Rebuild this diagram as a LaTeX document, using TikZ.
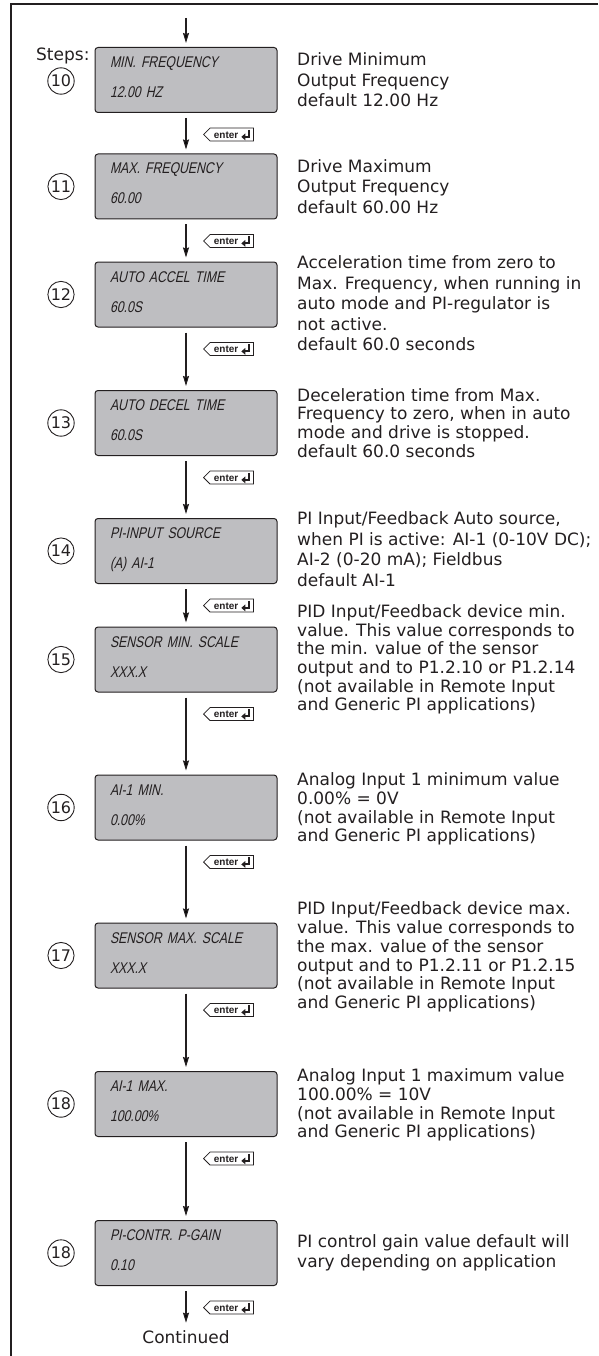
\documentclass[tikz,border=0pt]{standalone}
\usepackage{fontspec}
\setmainfont{DejaVu Sans}
\newfontfamily\lcdfont[FakeSlant=0.22,FakeStretch=0.79]{Liberation Sans}
\newfontfamily\keyfont{Liberation Sans}
\usepackage{xcolor}
\usetikzlibrary{
    arrows.meta,
    shapes,
    positioning
}
\definecolor{lcdgray}{RGB}{190,190,193}
\definecolor{inkgray}{RGB}{35,31,32}
\tikzset{%
    >={Stealth[length=10pt,width=6pt,inset=1pt]},
    % Specifications for style of nodes:
    display/.style = {
        rectangle, rounded corners=3pt, draw=inkgray, line width=1pt,
        fill=lcdgray, minimum width=182pt, minimum height=65pt,
        inner xsep=15pt, text width=152pt, align=left, text=inkgray,
        text height=11pt, text depth=36pt,
        font=\lcdfont\fontsize{15.5}{30}\selectfont
    },
    step-num/.style = {
        circle, draw=inkgray, line width=0.9pt, text=inkgray,
        inner sep=1pt, minimum size=26pt,
        font=\fontsize{16}{16}\selectfont
    },
    note-text/.style = {
        anchor=west, inner sep=0pt, align=left, text=inkgray,
        font=\fontsize{17}{18.7}\selectfont
    },
    loose-text/.style = {note-text, font=\fontsize{17}{20.5}\selectfont},
    enter-key/.style = {
        signal, signal to=west, draw=inkgray, line width=0.8pt,
        fill=white, minimum width=50pt, minimum height=13pt,
        inner sep=0.5pt, anchor=west, text=inkgray,
        font=\keyfont\bfseries\fontsize{10}{10}\selectfont
    },
    flow/.style = {->, line width=1.2pt, draw=inkgray, shorten <=5pt, shorten >=4pt}
}
\newcommand{\enterlabel}{enter\hspace{2pt}\tikz[x=1pt,y=1pt,baseline=0pt]
    \draw[inkgray, line width=2pt, -{Triangle[length=4pt,width=6.5pt]}] (0,8.5) -- (0,1.5) -- (-7.5,1.5);}

\begin{document}
\begin{tikzpicture}[x=1pt, y=-1pt]
    \useasboundingbox (0,0) rectangle (598,1356);
    \draw[line width=1.2pt, inkgray] (598,4) -- (11,4) -- (11,1356);

    \node[anchor=base west, inner sep=0pt, text=inkgray, font=\fontsize{17}{17}\selectfont] (steps) at (36,61) {Steps:};

    % displays
    \node[display] (d10) at (186,80) {MIN. FREQUENCY\\12.00 HZ};
    \node[display] (d11) at (186,186.5) {MAX. FREQUENCY\\60.00};
    \node[display] (d12) at (186,294.5) {AUTO ACCEL TIME\\60.0S};
    \node[display] (d13) at (186,423) {AUTO DECEL TIME\\60.0S};
    \node[display] (d14) at (186,551) {PI-INPUT SOURCE\\(A) AI-1};
    \node[display] (d15) at (186,659.5) {SENSOR MIN. SCALE\\XXX.X};
    \node[display] (d16) at (186,807.5) {AI-1 MIN.\\0.00\%};
    \node[display] (d17) at (186,955.5) {SENSOR MAX. SCALE\\XXX.X};
    \node[display] (d18) at (186,1104) {AI-1 MAX.\\100.00\%};
    \node[display] (d19) at (186,1253) {PI-CONTR. P-GAIN\\0.10};

    % step numbers
    \node[step-num] (n10) at (61,81) {10};
    \node[step-num] (n11) at (61,186.5) {11};
    \node[step-num] (n12) at (61,294.5) {12};
    \node[step-num] (n13) at (61,423) {13};
    \node[step-num] (n14) at (61,551) {14};
    \node[step-num] (n15) at (61,659.5) {15};
    \node[step-num] (n16) at (61,807.5) {16};
    \node[step-num] (n17) at (61,955.5) {17};
    \node[step-num] (n18) at (61,1104) {18};
    \node[step-num] (n19) at (61,1253) {18};

    % descriptions
    \node[loose-text] (t10) at (297,80) {Drive Minimum\\Output Frequency\\default 12.00 Hz};
    \node[loose-text] (t11) at (297,186.5) {Drive Maximum\\Output Frequency\\default 60.00 Hz};
    \node[loose-text] (t12) at (297,303.5) {Acceleration time from zero to\\Max. Frequency, when running in\\auto mode and PI-regulator is\\not active.\\default 60.0 seconds};
    \node[note-text] (t13) at (297,423) {Deceleration time from Max.\\Frequency to zero, when in auto\\mode and drive is stopped.\\default 60.0 seconds};
    \node[loose-text] (t14) at (297,549) {PI Input/Feedback Auto source,\\when PI is active: AI-1 (0-10V DC);\\AI-2 (0-20 mA); Fieldbus\\default AI-1};
    \node[note-text] (t15) at (297,659.5) {PID Input/Feedback device min.\\value. This value corresponds to\\the min. value of the sensor\\output and to P1.2.10 or P1.2.14\\(not available in Remote Input\\and Generic PI applications)};
    \node[note-text] (t16) at (297,809) {Analog Input 1 minimum value\\0.00\% = 0V\\(not available in Remote Input\\and Generic PI applications)};
    \node[note-text] (t17) at (297,957) {PID Input/Feedback device max.\\value. This value corresponds to\\the max. value of the sensor\\output and to P1.2.11 or P1.2.15\\(not available in Remote Input\\and Generic PI applications)};
    \node[note-text] (t18) at (297,1105) {Analog Input 1 maximum value\\100.00\% = 10V\\(not available in Remote Input\\and Generic PI applications)};
    \node[loose-text] (t19) at (297,1253) {PI control gain value default will\\vary depending on application};

    % enter keys
    \node[enter-key] (e10) at (203,134.5) {\enterlabel};
    \node[enter-key] (e11) at (203,241) {\enterlabel};
    \node[enter-key] (e12) at (203,349) {\enterlabel};
    \node[enter-key] (e13) at (203,477.5) {\enterlabel};
    \node[enter-key] (e14) at (203,605.5) {\enterlabel};
    \node[enter-key] (e15) at (203,714) {\enterlabel};
    \node[enter-key] (e16) at (203,862) {\enterlabel};
    \node[enter-key] (e17) at (203,1010) {\enterlabel};
    \node[enter-key] (e18) at (203,1158.5) {\enterlabel};
    \node[enter-key] (e19) at (203,1307.5) {\enterlabel};

    \node[inner sep=0pt, text=inkgray, font=\fontsize{17}{17}\selectfont] (cont) at (186,1337.5) {Continued};

    % arrows
    \coordinate (start) at (186,18);
    \draw[flow, shorten <=0pt] (start) -- (d10);
    \draw[flow] (d10) -- (d11);
    \draw[flow] (d11) -- (d12);
    \draw[flow] (d12) -- (d13);
    \draw[flow] (d13) -- (d14);
    \draw[flow] (d14) -- (d15);
    \draw[flow] (d15) -- (d16);
    \draw[flow] (d16) -- (d17);
    \draw[flow] (d17) -- (d18);
    \draw[flow] (d18) -- (d19);
    \draw[flow, shorten >=8pt] (d19) -- (cont);
\end{tikzpicture}
\end{document}
